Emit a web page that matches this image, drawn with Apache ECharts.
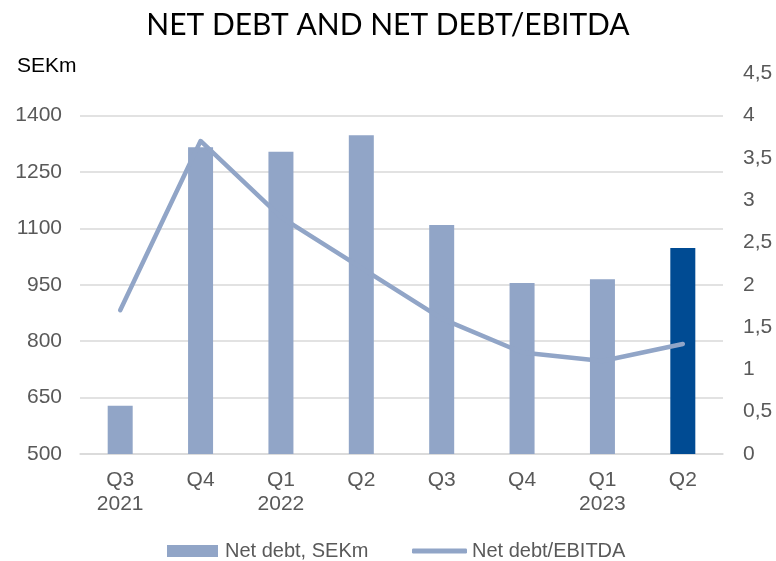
<!DOCTYPE html>
<html>
<head>
<meta charset="utf-8">
<script src="https://cdn.jsdelivr.net/npm/echarts@6/dist/echarts.min.js"></script>
<style>
  html, body { margin: 0; padding: 0; background: #fff; }
  #chart { width: 776px; height: 561px; }
</style>
</head>
<body>
<div id="chart"></div>
<script>
// quarters, Q3 2021 .. Q2 2023
const quarters = ['Q3\n2021', 'Q4', 'Q1\n2022', 'Q2', 'Q3', 'Q4', 'Q1\n2023', 'Q2']
const netDebt = [628, 1316, 1304, 1348, 1109, 955, 965, 1048]
const netDebtEbitda = [1.7, 3.7, 2.8, 2.2, 1.6, 1.2, 1.1, 1.3]

const lightBlue = '#91a5c7'
const darkBlue = '#004b93'
const labelColor = '#595959'
const gridColor = '#d9d9d9'
const font = "'Liberation Sans', Arial, sans-serif"

const chart = echarts.init(document.getElementById('chart'))

// no gridline at the (hidden) top of the left axis
const splitColors = [gridColor, gridColor, gridColor, gridColor, gridColor, gridColor, gridColor, 'rgba(0,0,0,0)']

chart.setOption({
  animation: false,
  title: [
    {
      text: 'NET DEBT AND NET DEBT/EBITDA',
      left: 'center',
      top: 5,
      textStyle: { fontFamily: 'Lato', fontSize: 30, fontWeight: 'normal', color: '#000' }
    },
    {
      text: 'SEKm',
      left: 12,
      top: 51,
      textStyle: { fontFamily: font, fontSize: 21, fontWeight: 'normal', color: '#000' }
    }
  ],
  legend: [
    {
      left: 167,
      top: 541,
      padding: 0,
      itemWidth: 51,
      itemHeight: 12,
      textStyle: { fontFamily: font, fontSize: 20, color: labelColor, padding: [0, 0, 0, 2] },
      data: [{ name: 'Net debt, SEKm', icon: 'rect' }]
    },
    {
      left: 412,
      top: 541,
      padding: 0,
      itemWidth: 55,
      itemHeight: 5,
      textStyle: { fontFamily: font, fontSize: 20, color: labelColor },
      data: [{ name: 'Net debt/EBITDA', icon: 'roundRect' }]
    }
  ],
  grid: { left: 80, right: 53, top: 73.3, bottom: 107 },
  xAxis: {
    type: 'category',
    data: quarters,
    axisLine: { lineStyle: { color: gridColor, width: 1.5 } },
    axisTick: { show: false },
    axisLabel: {
      color: labelColor,
      fontFamily: font,
      fontSize: 21,
      lineHeight: 24,
      margin: 14
    }
  },
  yAxis: [
    {
      type: 'value',
      min: 500,
      max: 1512.5,
      interval: 150,
      axisLine: { show: false },
      axisTick: { show: false },
      splitLine: { lineStyle: { color: splitColors, width: 1.5 } },
      axisLabel: {
        color: labelColor,
        fontFamily: font,
        fontSize: 21,
        margin: 18,
        showMaxLabel: false,
        formatter: (v) => String(v)
      }
    },
    {
      type: 'value',
      min: 0,
      max: 4.5,
      interval: 0.5,
      axisLine: { show: false },
      axisTick: { show: false },
      splitLine: { show: false },
      axisLabel: {
        color: labelColor,
        fontFamily: font,
        fontSize: 21,
        margin: 20,
        formatter: (v) => String(v).replace('.', ',')
      }
    }
  ],
  series: [
    {
      name: 'Net debt, SEKm',
      type: 'bar',
      yAxisIndex: 0,
      barWidth: 25,
      itemStyle: { color: lightBlue },
      data: netDebt.map((v, i) => i === netDebt.length - 1
        ? { value: v, itemStyle: { color: darkBlue } }
        : v)
    },
    {
      name: 'Net debt/EBITDA',
      type: 'line',
      yAxisIndex: 1,
      symbol: 'none',
      lineStyle: { color: lightBlue, width: 4.5, cap: 'round', join: 'round' },
      itemStyle: { color: lightBlue },
      data: netDebtEbitda
    }
  ]
})
</script>
</body>
</html>
